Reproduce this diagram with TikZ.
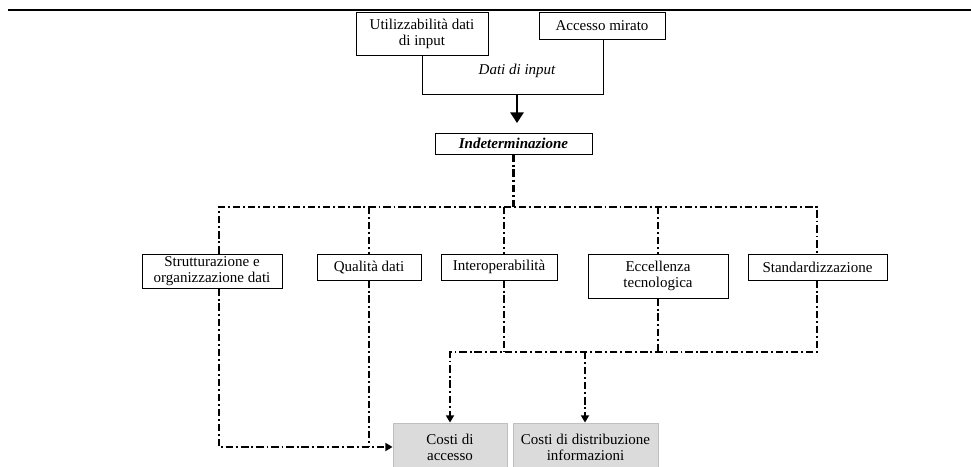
\documentclass[tikz,border=0pt]{standalone}
\usepackage{fontspec}
\setmainfont{Liberation Serif}
\usetikzlibrary{arrows.meta}
\begin{document}
\begin{tikzpicture}[x=0.75pt,y=-0.75pt,
  every node/.style={font=\fontsize{11.25}{12}\selectfont},
  sz/.style 2 args={minimum width=#1*0.75pt,minimum height=#2*0.75pt},
  box/.style={draw,line width=0.6pt,fill=white,inner sep=0pt,align=center},
  costbox/.style={draw=black!25,line width=0.6pt,fill=black!14,inner sep=0pt,align=center},
  dd/.style={line width=2pt,dash pattern=on 5.5pt off 2.2pt on 1.4pt off 2.2pt},
  ddarrow/.style={dd,-{Triangle[length=5.5pt,width=6pt]}},
  mainarrow/.style={line width=1.6pt,-{Triangle[length=8pt,width=10pt]}}]
\useasboundingbox (0,0) rectangle (971,467);
\clip (0,0) rectangle (971,467);

% top rule
\draw[line width=1.8pt] (8,10) -- (971,10);

% input block
\node[box,draw=none,fill=none,sz={180}{64}] (din) at (513,62) {};
\node[font=\fontsize{11.25}{12}\selectfont\itshape] (dintext) at (517,71) {Dati di input};
\node[box,sz={132}{43}] (util) at (422,33.5) {Utilizzabilità dati\\di input};
\node[box,sz={126}{27}] (acc) at (602,25.5) {Accesso mirato};
\draw[line width=0.6pt] (din.west |- util.south) -- (din.south west) -- (din.south east) -- (din.east |- acc.south);

\node[box,sz={157}{21},font=\fontsize{11.25}{12}\selectfont\bfseries\itshape] (ind) at (513.5,143.5) {Indeterminazione};
\coordinate (arrtop) at (517,94);
\coordinate (arrtip) at (517,123);
\draw[mainarrow] (arrtop) -- (arrtip);

% factors
\node[box,sz={140}{34}] (strut) at (212,271) {Strutturazione e\\organizzazione dati};
\node[box,sz={104}{26}] (qual) at (369,267) {Qualità dati};
\node[box,sz={116}{26}] (inter) at (499,267) {Interoperabilità};
\node[box,sz={140}{44}] (ecc) at (658,276) {Eccellenza\\tecnologica};
\node[box,sz={139}{26}] (std) at (817.5,267) {Standardizzazione};

% costs
\node[costbox,sz={114}{49}] (cacc) at (450,447.5) {Costi di\\accesso};
\node[costbox,sz={145}{49}] (cdist) at (585.5,447.5) {Costi di distribuzione\\informazioni};

% upper distribution line
\coordinate (hl) at (219,207);
\coordinate (hr) at (817,207);
\coordinate (hq) at (369,207);
\coordinate (hi) at (504,207);
\draw[dd] (ind.south) -- (ind.south |- hl);
\draw[dd] (hl |- strut.north) -- (hl) -- (hr) -- (hr |- std.north);
\draw[dd] (hq) -- (hq |- qual.north);
\draw[dd] (hi) -- (hi |- inter.north);
\draw[dd] (ecc.north |- hl) -- (ecc.north);

% lower left connection
\coordinate (low) at (219,447);
\draw[ddarrow] (hl |- strut.south) -- (low) -- (cacc.west |- low);
\draw[dd] (hq |- qual.south) -- (hq |- low);

% lower right connection
\coordinate (mid) at (450,352);
\coordinate (mdist) at (585,352);
\draw[ddarrow] (hr |- std.south) -- (hr |- mid) -- (mid) -- (cacc.north);
\draw[dd] (hi |- inter.south) -- (hi |- mid);
\draw[dd] (ecc.south) -- (ecc.south |- mid);
\draw[ddarrow] (mdist) -- (mdist |- cdist.north);
\end{tikzpicture}
\end{document}
